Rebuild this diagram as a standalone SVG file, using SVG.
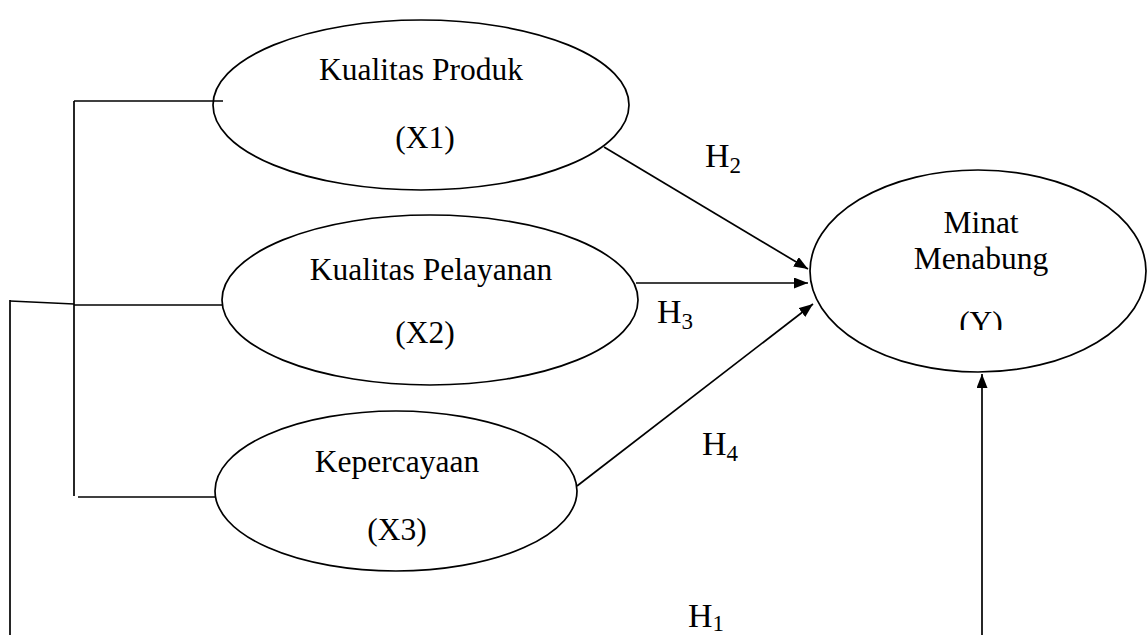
<svg xmlns="http://www.w3.org/2000/svg" width="1147" height="635" viewBox="0 0 1147 635">
<style>
.n{fill:none;stroke:#000;stroke-width:1.7}
.l{fill:none;stroke:#000;stroke-width:1.7}
.t{font-family:"Liberation Serif",serif;font-size:31.5px;fill:#000;text-anchor:middle}
.h{font-family:"Liberation Serif",serif;font-size:34px;fill:#000}
.s{font-size:23px}
</style>
<defs>
<marker id="a" markerWidth="14" markerHeight="11" refX="14" refY="5.5" orient="auto" markerUnits="userSpaceOnUse">
<path d="M0,0 L14,5.5 L0,11 Z" fill="#000"/>
</marker>
<clipPath id="cy"><rect x="900" y="290" width="160" height="40"/></clipPath>
</defs>
<rect width="1147" height="635" fill="#fff"/>
<g id="connectors">
<path class="l" d="M74,101 V496"/>
<path class="l" d="M74,101 H223"/>
<path class="l" d="M74,305 H223"/>
<path class="l" d="M78,497 H215"/>
<path class="l" d="M10,300 V635"/>
<path class="l" d="M10,301 L74,304"/>
<path class="l" d="M604,147 L808,269" marker-end="url(#a)"/>
<path class="l" d="M636,283 L808,283" marker-end="url(#a)"/>
<path class="l" d="M577,486 L813,304" marker-end="url(#a)"/>
<path class="l" d="M982,635 L982,374" marker-end="url(#a)"/>
</g>
<g id="x1">
<ellipse class="n" cx="421" cy="105" rx="208" ry="85"/>
<text class="t" x="421" y="80">Kualitas Produk</text>
<text class="t" x="425" y="148">(X1)</text>
</g>
<g id="x2">
<ellipse class="n" cx="430" cy="300" rx="208" ry="85"/>
<text class="t" x="431" y="280">Kualitas Pelayanan</text>
<text class="t" x="425" y="343">(X2)</text>
</g>
<g id="x3">
<ellipse class="n" cx="396" cy="491" rx="181" ry="80"/>
<text class="t" x="397" y="472">Kepercayaan</text>
<text class="t" x="397" y="540">(X3)</text>
</g>
<g id="y">
<ellipse class="n" cx="978" cy="271" rx="168" ry="101"/>
<text class="t" x="981" y="233">Minat</text>
<text class="t" x="981" y="269">Menabung</text>
<text class="t" x="981" y="333" clip-path="url(#cy)">(Y)</text>
</g>
<g id="labels">
<text class="h" x="705" y="167">H<tspan class="s" dy="6">2</tspan></text>
<text class="h" x="657" y="323">H<tspan class="s" dy="6">3</tspan></text>
<text class="h" x="702" y="455">H<tspan class="s" dy="6">4</tspan></text>
<text class="h" x="688" y="627">H<tspan class="s" dy="4">1</tspan></text>
</g>
</svg>
